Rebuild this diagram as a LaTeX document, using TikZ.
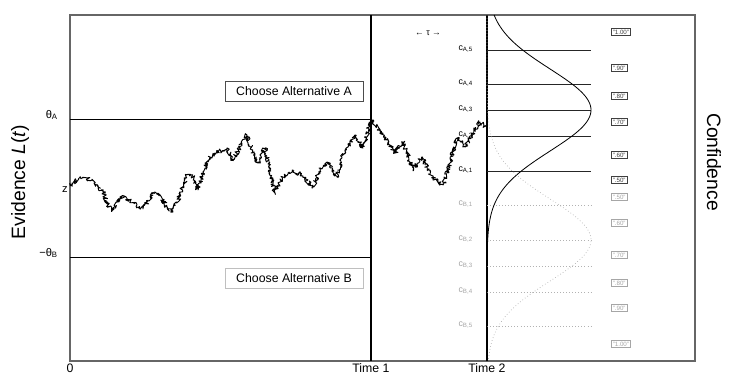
\documentclass[tikz,border=0pt]{standalone}
\usepackage{fontspec}
\setmainfont{Liberation Sans}
\usetikzlibrary{positioning,decorations.pathmorphing}

\tikzset{
  frame/.style={draw=black!60, line width=0.9pt},
  timeline/.style={line width=0.9pt},
  bound/.style={line width=0.6pt},
  critA/.style={black!85, line width=0.6pt},
  critB/.style={black!30, dotted, line width=0.6pt},
  choice/.style={draw=#1, minimum width=41.4mm, minimum height=6mm, inner sep=0pt,
    font=\fontsize{10.5}{12}\selectfont},
  conf/.style={draw=#1, text=#1, line width=0.6pt, font=\fontsize{5.3}{6}\selectfont,
    inner sep=1.2pt, anchor=west},
  clab/.style={font=\fontsize{7.5}{8}\selectfont, anchor=east, inner sep=0pt},
  thlab/.style={font=\fontsize{9.5}{10}\selectfont, anchor=east, inner sep=0pt},
  ticklab/.style={font=\fontsize{10.5}{12}\selectfont, inner sep=0pt},
  axlab/.style={font=\fontsize{16.5}{18}\selectfont},
  walk/.style={decorate, decoration={random steps, segment length=0.7pt, amplitude=1.9pt},
    line width=0.8pt, line join=round},
}

\begin{document}
\begin{tikzpicture}[x=0.3mm, y=-0.3mm]
\pgfmathsetseed{2010}
\useasboundingbox (0,0) rectangle (737,389);

% frame and time lines
\coordinate (O) at (70,361);
\coordinate (T1) at (371,361);
\coordinate (T2) at (487,361);
\coordinate (top) at (70,15);
\draw[frame] (top) rectangle (695,361);
\draw[timeline] (T1) -- (T1 |- top);
\draw[timeline] (T2) -- (T2 |- top);

\node[ticklab, below=2pt of O] (zero) {0};
\node[ticklab, below=2pt of T1] (time1) {Time 1};
\node[ticklab, below=2pt of T2] (time2) {Time 2};

% thresholds
\coordinate (thA) at (70,119);
\coordinate (thB) at (70,257);
\draw[bound] (thA) -- (thA -| T1);
\draw[bound] (thB) -- (thB -| T1);
\node[thlab] (thAlab) at (58,115) {θ\textsubscript{A}};
\node[thlab] (thBlab) at (58,253) {−θ\textsubscript{B}};
\node[thlab] (zlab) at (68,190) {z};

\node[choice=black!70] (chA) at (294,91) {Choose Alternative A};
\node[choice=black!25] (chB) at (294,278) {Choose Alternative B};

% axis titles
\node[axlab, rotate=90] (ylab) at (20,182) {Evidence \textit{L}(\textit{t})};
\node[axlab, rotate=-90] (conflab) at (714,162) {Confidence};

% criteria
\foreach \i/\y in {1/171,2/136,3/110,4/84,5/50}{
  \draw[critA] (487,\y) -- (591,\y);
  \node[clab] (cA\i) at (473,\y-1) {c\textsubscript{A,\i}};
}
\foreach \i/\y in {1/205,2/240,3/266,4/292,5/326}{
  \draw[critB] (487,\y) -- (591,\y);
  \node[clab, text=black!35] (cB\i) at (473,\y-1) {c\textsubscript{B,\i}};
}
\node[clab, anchor=center] (tau) at (428,33) {← τ →};

% confidence ratings
\foreach \v/\y [count=\k] in {1.00/32,.90/68,.80/96,.70/122,.60/155,.50/180}
  \node[conf=black!75] (rA\k) at (611,\y) {"\v"};
\foreach \v/\y [count=\k] in {.50/197,.60/223,.70/255,.80/283,.90/308,1.00/344}
  \node[conf=black!35] (rB\k) at (611,\y) {"\v"};

% distributions at time 2
\draw[line width=0.7pt] plot[domain=15:361, samples=150, variable=\t]
  ({487+104*exp(-0.5*((\t-110)/41)^2)}, \t);
\draw[critB] plot[domain=15:361, samples=150, variable=\t]
  ({487+104*exp(-0.5*((\t-240)/41)^2)}, \t);

% evidence path
\draw[walk] (70,186) -- (72,183) -- (82,178) -- (92,180) -- (98,187) -- (103,192)
  -- (108,205) -- (113,210) -- (120,197) -- (130,200) -- (138,207) -- (143,208)
  -- (155,192) -- (160,195) -- (167,207) -- (173,212) -- (180,195) -- (187,175)
  -- (193,177) -- (198,190) -- (203,172) -- (210,157) -- (218,152) -- (227,148)
  -- (233,160) -- (240,147) -- (247,135) -- (252,150) -- (258,163) -- (265,148)
  -- (270,170) -- (275,193) -- (282,177) -- (293,170) -- (303,176) -- (313,187)
  -- (320,170) -- (327,162) -- (337,177) -- (342,157) -- (348,147) -- (355,135)
  -- (363,148) -- (371,120) -- (380,132) -- (387,140) -- (395,153) -- (403,142)
  -- (413,170) -- (422,157) -- (432,178) -- (443,185) -- (450,163) -- (457,138)
  -- (465,147) -- (473,133) -- (480,122) -- (487,128);
\end{tikzpicture}
\end{document}
